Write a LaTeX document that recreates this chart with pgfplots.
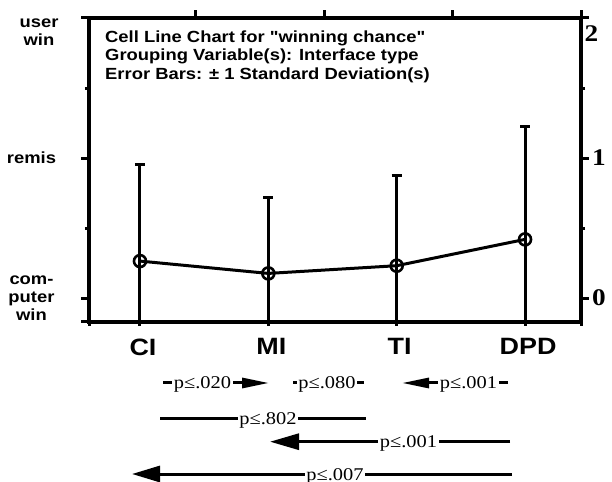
\documentclass[border=0pt]{standalone}
\usepackage{pgfplots}
\pgfplotsset{compat=1.18}
\usepackage{pgfplotstable}
\usepackage{fontspec}
\setmainfont{Liberation Sans}[FakeStretch=1.14, Ligatures=TeXOff]
\newfontfamily\seriffont{Liberation Serif}[FakeStretch=1.14]
\usetikzlibrary{arrows.meta}
\newcommand\pfont{\seriffont\fontsize{18}{18}\selectfont}
\newcommand\tfont{\fontsize{16.2}{18}\selectfont\bfseries}

\pgfplotstableread{
x y e
1 0.264 0.693
2 0.176 0.543
3 0.231 0.643
4 0.419 0.805
}\datatable

\pgfplotsset{
  common/.style={
    width=492bp, height=304bp, scale only axis,
    xmin=0.603, xmax=4.436, ymin=-0.171, ymax=2,
    axis line style={line width=3.3bp, black},
    tick style={line width=3bp, black},
    tick align=outside,
  }
}

\begin{document}
\begin{tikzpicture}
\begin{axis}[common, name=ax,
  xtick={0.603,1,2,3,4,4.436}, xticklabels={,CI,MI,TI,DPD,},
  xtick pos=left, ytick=\empty,
  major tick length=4bp,
  xticklabel style={font=\fontsize{23.7}{24}\selectfont\bfseries, xshift=3bp, yshift=-9bp}]
\addplot[black, line width=3bp, mark=o, mark size=6bp,
  mark options={line width=2.6bp, solid},
  error bars/.cd, y dir=both, y explicit,
  error bar style={line width=3bp},
  error mark=-,
  error mark options={rotate=90, black, line width=3bp, mark size=5bp}]
  table[x=x, y=y, y error=e] {\datatable};
\end{axis}
\begin{axis}[common,
  xtick=\empty,
  ytick={-0.171,0,1,2}, minor ytick={0.5,1.5},
  yticklabels={,{com-\\puter\\win},remis,},
  ytick pos=left,
  major tick length=7.5bp, minor tick length=4bp,
  yticklabel style={font=\tfont, align=center, anchor=center, xshift=-50bp},
  extra y ticks={1.9}, extra y tick labels={{user\\win}},
  extra y tick style={major tick length=0pt}]
\end{axis}
\begin{axis}[common,
  xtick={1.436,2.436,3.436,4.436}, xticklabels={},
  xtick pos=right,
  ytick={0,1,2}, minor ytick={0.5,1.5},
  yticklabels={0,1,},
  ytick pos=right, yticklabel pos=right,
  major tick length=7.5bp, minor tick length=4bp,
  yticklabel style={font=\seriffont\fontsize{24}{24}\selectfont\bfseries},
  extra y ticks={1.89}, extra y tick labels={2},
  extra y tick style={major tick length=0pt}]
\end{axis}

\begin{scope}[shift={(ax.north west)}, xshift=-89bp, yshift=18bp, x=1bp, y=-1bp]
  % title lines
  \node[anchor=base west, inner sep=0pt, font=\tfont] at (105,43) {Cell Line Chart for "winning chance"};
  \node[anchor=base west, inner sep=0pt, font=\tfont] at (105,60.7) {Grouping Variable(s): Interface type};
  \node[anchor=base west, inner sep=0pt, font=\tfont] at (105,79.7) {Error Bars: ± 1 Standard Deviation(s)};
  % significance annotations
  \tikzset{sig/.style={fill=white, inner sep=0pt, inner xsep=1.5bp, anchor=base, font=\pfont}}
  \draw[line width=3bp, -{Triangle[length=27bp,width=10bp]}] (163,383) -- (269,383);
  \node[sig] at (202.5,389) {p≤.020};
  \draw[line width=3bp] (293,383) -- (364,383);
  \node[sig] at (327,389) {p≤.080};
  \draw[line width=3bp, -{Triangle[length=27bp,width=10bp]}] (508,383) -- (402,383);
  \node[sig] at (468.5,389) {p≤.001};
  \draw[line width=3bp] (160,418.7) -- (366,418.7);
  \node[sig] at (268,424.7) {p≤.802};
  \draw[line width=3bp, -{Triangle[length=29bp,width=16bp]}] (510,441.7) -- (270,441.7);
  \node[sig] at (408.5,447.7) {p≤.001};
  \draw[line width=3bp, -{Triangle[length=28bp,width=16bp]}] (512,474) -- (132,474);
  \node[sig] at (335,480) {p≤.007};
  \pgfresetboundingbox
  \path[use as bounding box] (0,0) rectangle (612,482);
\end{scope}
\end{tikzpicture}
\end{document}
